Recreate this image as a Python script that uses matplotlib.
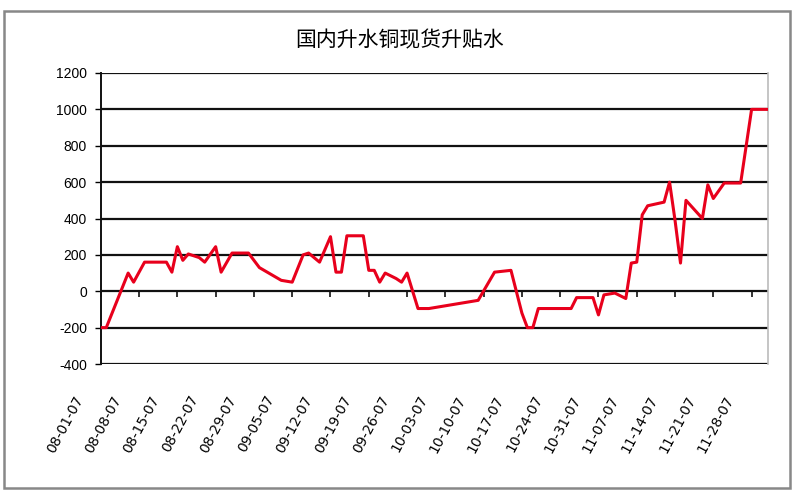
import matplotlib
matplotlib.use("Agg")
import matplotlib.pyplot as plt
import matplotlib.transforms as mtransforms
from matplotlib.patches import Rectangle
import pandas as pd

plt.rcParams['font.family'] = ['Noto Sans CJK SC', 'DejaVu Sans']

title = "国内升水铜现货升贴水"

dates = [
    "2007-08-01", "2007-08-02", "2007-08-06", "2007-08-07", "2007-08-09", "2007-08-13",
    "2007-08-14", "2007-08-15", "2007-08-16", "2007-08-17", "2007-08-19", "2007-08-20",
    "2007-08-22", "2007-08-23", "2007-08-25", "2007-08-28", "2007-08-30", "2007-09-03",
    "2007-09-05", "2007-09-07", "2007-09-08", "2007-09-10", "2007-09-12", "2007-09-13",
    "2007-09-14", "2007-09-15", "2007-09-18", "2007-09-19", "2007-09-20", "2007-09-21",
    "2007-09-22", "2007-09-24", "2007-09-25", "2007-09-26", "2007-09-28", "2007-09-30",
    "2007-10-09", "2007-10-12", "2007-10-15", "2007-10-17", "2007-10-18", "2007-10-19",
    "2007-10-20", "2007-10-26", "2007-10-27", "2007-10-30", "2007-10-31", "2007-11-01",
    "2007-11-03", "2007-11-04", "2007-11-05", "2007-11-06", "2007-11-07", "2007-11-08",
    "2007-11-09", "2007-11-12", "2007-11-13", "2007-11-14", "2007-11-15", "2007-11-16",
    "2007-11-19", "2007-11-20", "2007-11-21", "2007-11-23", "2007-11-26", "2007-11-28",
    "2007-12-01",
]
values = [
    -200, -200, 100, 50, 160, 160,
    105, 245, 170, 205, 185, 160,
    245, 105, 210, 210, 130, 60,
    50, 200, 210, 160, 300, 105,
    105, 305, 305, 115, 115, 50,
    100, 70, 50, 100, -95, -95,
    -50, 105, 115, -120, -200, -200,
    -95, -95, -35, -35, -130, -20,
    -10, -25, -40, 155, 160, 420,
    470, 490, 600, 390, 155, 500,
    400, 585, 510, 595, 595, 1000,
    1000,
]

x_start = "2007-08-01"
x_end = "2007-12-01"
y_ticks = [-400, -200, 0, 200, 400, 600, 800, 1000, 1200]

x = pd.to_datetime(dates)

fig = plt.figure(figsize=(8, 5), dpi=100)
ax = fig.add_axes([0.126, 0.272, 0.834, 0.582])

ax.plot(x, values, color="#e8001c", lw=2.2, zorder=3)

ax.set_xlim(pd.Timestamp(x_start), pd.Timestamp(x_end))
ax.set_ylim(y_ticks[0], y_ticks[-1])
ax.set_yticks(y_ticks)
ax.set_yticklabels([str(v) for v in y_ticks], family=["Liberation Sans"], fontsize=10)
for yv in y_ticks:
    ax.axhline(yv, color="#111111", lw=1.6, zorder=1)

tick_dates = pd.date_range(x_start, x_end, freq="7D")
ax.set_xticks(tick_dates)
ax.set_xticklabels([d.strftime("%m-%d-%y") for d in tick_dates])
ax.tick_params(axis="x", length=0, pad=21)
ax.tick_params(axis="y", length=4, direction="out", width=1, pad=6)
offset = mtransforms.ScaledTranslation(-0.15, 0, fig.dpi_scale_trans)
for lab in ax.get_xticklabels():
    lab.set_rotation(62)
    lab.set_ha("right")
    lab.set_va("top")
    lab.set_family(["DejaVu Sans"])
    lab.set_fontsize(10)
    lab.set_transform(lab.get_transform() + offset)

# tick marks along the zero line
sec = ax.secondary_xaxis(0.25)
sec.set_xticks(tick_dates)
sec.set_xticklabels([])
sec.tick_params(axis="x", length=4, direction="out", width=1.2, color="#111111")
sec.spines["bottom"].set_visible(False)
sec.spines["top"].set_visible(False)

for side in ["top", "bottom"]:
    ax.spines[side].set_visible(False)
ax.spines["left"].set_color("#111111")
ax.spines["left"].set_linewidth(1.4)
ax.spines["right"].set_color("#bbbbbb")
ax.spines["right"].set_linewidth(1.2)

fig.text(0.5, 0.92, title, ha="center", va="center", fontsize=15)

fig.patches.append(Rectangle((0.005, 0.024), 0.983, 0.955, transform=fig.transFigure,
                             fill=False, edgecolor="#888888", lw=1.8))

fig.savefig("out.png", dpi=100)
